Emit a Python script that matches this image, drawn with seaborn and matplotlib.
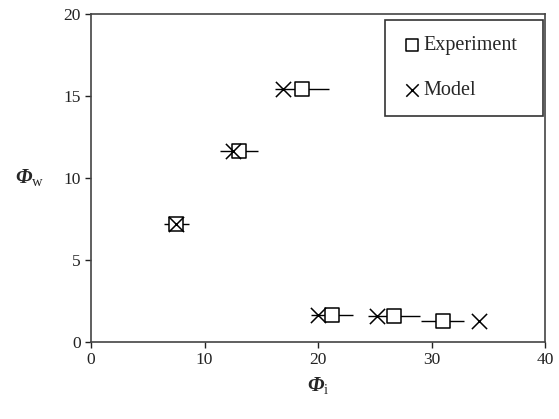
"""
Phi_w vs Phi_i: experiment (with error bars) against model.
"""

import matplotlib.pyplot as plt
import pandas as pd
import seaborn as sns

# values
exp_phi_i = [7.5, 13.05, 18.6, 21.2, 26.7, 31.0]
exp_phi_w = [7.2, 11.65, 15.4, 1.63, 1.6, 1.28]
exp_err = [1.1, 1.7, 2.4, 1.85, 2.3, 1.9]

model_phi_i = [7.5, 12.5, 16.95, 20.0, 25.15, 34.2]
model_phi_w = [7.2, 11.65, 15.4, 1.63, 1.6, 1.28]

x_ticks = [0, 10, 20, 30, 40]
y_ticks = [0, 5, 10, 15, 20]

sns.set_style("ticks")
plt.rcParams["font.family"] = ["Liberation Serif", "DejaVu Serif"]
plt.rcParams["mathtext.fontset"] = "custom"
plt.rcParams["mathtext.rm"] = "Liberation Serif"
plt.rcParams["mathtext.it"] = "Liberation Serif:italic"

exp_df = pd.DataFrame({"phi_i": exp_phi_i, "phi_w": exp_phi_w, "err": exp_err})
model_df = pd.DataFrame({"phi_i": model_phi_i, "phi_w": model_phi_w})

fig, ax = plt.subplots(figsize=(5.59, 4.19), dpi=100)
fig.subplots_adjust(left=0.163, right=0.975, bottom=0.184, top=0.967)

ax.errorbar(
    exp_df["phi_i"], exp_df["phi_w"], xerr=exp_df["err"],
    fmt="none", ecolor="black", elinewidth=1.0, capsize=0, zorder=2,
)
sns.scatterplot(
    data=exp_df, x="phi_i", y="phi_w", ax=ax, marker="s", s=95,
    facecolor="white", edgecolor="black", linewidth=1.1,
    label="Experiment", zorder=3,
)
sns.scatterplot(
    data=model_df, x="phi_i", y="phi_w", ax=ax, marker="x", s=120,
    color="black", linewidth=1.1, label="Model", zorder=4,
)

ax.set_xlim(0, 40)
ax.set_ylim(0, 20)
ax.set_xticks(x_ticks)
ax.set_yticks(y_ticks)
ax.tick_params(direction="out", length=4, width=1, colors="#222", labelsize=12.5)
for sp in ax.spines.values():
    sp.set_visible(True)
    sp.set_color("#444")
    sp.set_linewidth(1.2)

ax.set_xlabel(r"Φ$_{\mathrm{i}}$", fontsize=15, fontstyle="italic",
              fontweight="bold", labelpad=5)
ax.set_ylabel(r"Φ$_{\mathrm{w}}$", fontsize=15, fontstyle="italic",
              fontweight="bold", rotation=0, labelpad=24, va="center")

# expanded legend so the box is wider than its text, like the original
leg = ax.legend(
    loc="upper right", bbox_to_anchor=(0.648, 0.0, 0.348, 0.982),
    mode="expand", fontsize=14.5,
    frameon=True, fancybox=False, edgecolor="#333", framealpha=1,
    handlelength=1.1, handletextpad=0.0, labelspacing=1.3,
    borderpad=0.8, borderaxespad=0.0,
)
leg.get_frame().set_linewidth(1.2)
for h in leg.legend_handles:
    h.set_sizes([80])

fig.savefig("out.png", dpi=100)
